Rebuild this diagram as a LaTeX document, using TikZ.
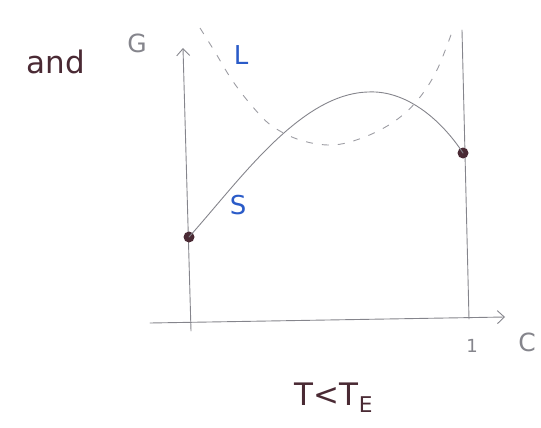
\documentclass[tikz,border=0pt]{standalone}
\usepackage{fontspec}
\setmainfont{DejaVu Sans}
\usetikzlibrary{arrows.meta}
\definecolor{pencil}{HTML}{85858C}
\definecolor{inkblue}{HTML}{2A5BC8}
\definecolor{inkbrown}{HTML}{4A2A34}
\tikzset{
  pen/.style={draw=pencil, line width=0.9pt, line cap=round},
  axisarrow/.style={pen, -{Straight Barb[length=7pt,width=13pt,line width=0.9pt]}},
  dashedcurve/.style={draw=pencil!80, line width=0.9pt, dash pattern=on 7pt off 9pt},
  dotnode/.style={circle, fill=inkbrown, inner sep=0pt, minimum size=11pt},
  bluelabel/.style={text=inkblue, font=\fontsize{26}{26}\selectfont},
  graylabel/.style={text=pencil, font=\fontsize{25}{25}\selectfont},
  brownlabel/.style={text=inkbrown, font=\fontsize{31}{31}\selectfont},
}
\begin{document}
\begin{tikzpicture}[x=1pt,y=-1pt]
\useasboundingbox (0,0) rectangle (541,428);
% axes
\coordinate (ybot) at (191,331);
\coordinate (ytop) at (183,48);
\coordinate (xleft) at (150,323);
\coordinate (xright) at (505,317);
\coordinate (rtop) at (462,30);
\coordinate (rbot) at (469,319);
\draw[axisarrow] (ybot) -- (ytop);
\draw[axisarrow] (xleft) -- (xright);
\draw[pen] (rtop) -- (rbot);
% dots
\node[dotnode] (p0) at (189,237) {};
\node[dotnode] (p1) at (463,153) {};
% solid curve S
\coordinate (peak) at (368,92);
\draw[pen] (p0.center) .. controls (240,180) and (300,94) .. (peak) .. controls (405,90) and (440,118) .. (p1.center);
% dashed curve L
\draw[dashedcurve] plot[smooth, tension=0.6] coordinates {(200,28) (215,52) (232,80) (252,106) (272,126) (300,140) (332,145) (362,138) (392,123) (416,102) (436,72) (452,32)};
% labels
\node[graylabel] (G) at (137,43) {G};
\node[bluelabel] (L) at (241,55) {L};
\node[bluelabel] (S) at (238,205) {S};
\node[graylabel, font=\fontsize{18}{18}\selectfont] (one) at (472,346) {1};
\node[graylabel] (C) at (527,342) {C};
\node[brownlabel] (and) at (56,62) {and};
\node[brownlabel] (T) at (334,398) {T<T\textsubscript{E}};
\end{tikzpicture}
\end{document}
